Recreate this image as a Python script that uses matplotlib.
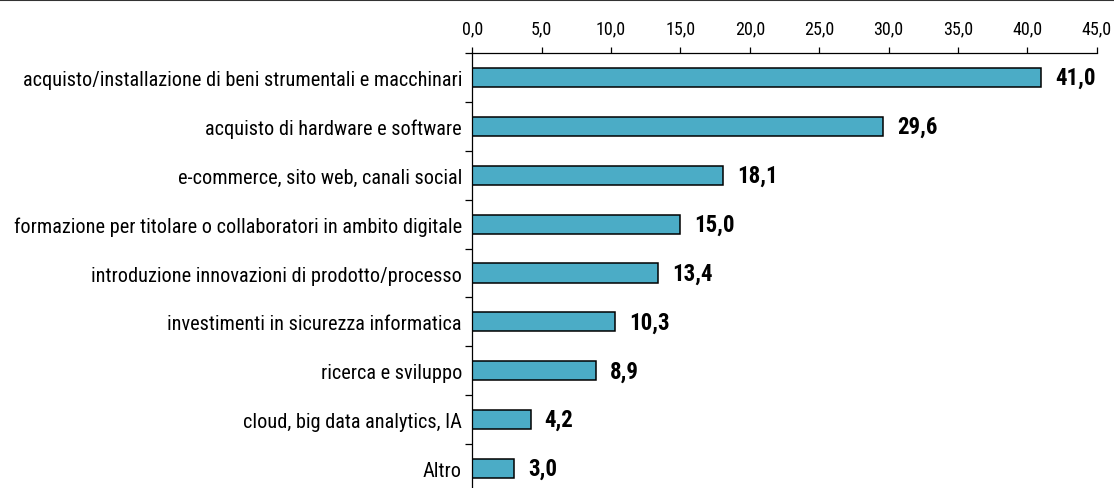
import matplotlib
matplotlib.use("Agg")
import matplotlib.pyplot as plt
from matplotlib.lines import Line2D
from matplotlib.ticker import FixedLocator

categories = [
    "acquisto/installazione di beni strumentali e macchinari",
    "acquisto di hardware e software",
    "e-commerce, sito web, canali social",
    "formazione per titolare o collaboratori in ambito digitale",
    "introduzione innovazioni di prodotto/processo",
    "investimenti in sicurezza informatica",
    "ricerca e sviluppo",
    "cloud, big data analytics, IA",
    "Altro",
]
values = [41.0, 29.6, 18.1, 15.0, 13.4, 10.3, 8.9, 4.2, 3.0]
xticks = [0, 5, 10, 15, 20, 25, 30, 35, 40, 45]

plt.rcParams["font.family"] = ["Roboto Condensed", "DejaVu Sans"]

fig = plt.figure(figsize=(11.14, 4.89), dpi=100)
ax = fig.add_axes([472.3 / 1114, (489 - 494) / 489, 624.5 / 1114, 440 / 489])

y = list(range(len(categories)))
ax.barh(y, values, height=0.39, color="#4BACC6", edgecolor="black", linewidth=1.1)
ax.set_ylim(len(categories) - 0.5, -0.5)
ax.set_xlim(0, 45)

ax.xaxis.tick_top()
ax.set_xticks(xticks)
ax.set_xticklabels([f"{t:.1f}".replace(".", ",") for t in xticks], fontsize=13)
ax.tick_params(axis="x", direction="out", length=4, width=0.9, pad=7.5)

ax.set_yticks(y)
ax.set_yticklabels(categories, fontsize=14.6)
ax.tick_params(axis="y", which="major", length=0, pad=7.5)
ax.yaxis.set_minor_locator(FixedLocator([i - 0.5 for i in range(len(categories) + 1)]))
ax.tick_params(axis="y", which="minor", direction="out", length=5, width=0.9)

for s in ["right", "bottom"]:
    ax.spines[s].set_visible(False)
for s in ["left", "top"]:
    ax.spines[s].set_linewidth(0.9)

for yi, v in zip(y, values):
    ax.text(v + 1.0, yi, f"{v:.1f}".replace(".", ","), va="center", ha="left",
            fontsize=16.5, fontweight="bold")

fig.add_artist(Line2D([0, 1], [0.997, 0.997], transform=fig.transFigure,
                      color="#333333", linewidth=1.5))

fig.savefig("out.png", dpi=100)
